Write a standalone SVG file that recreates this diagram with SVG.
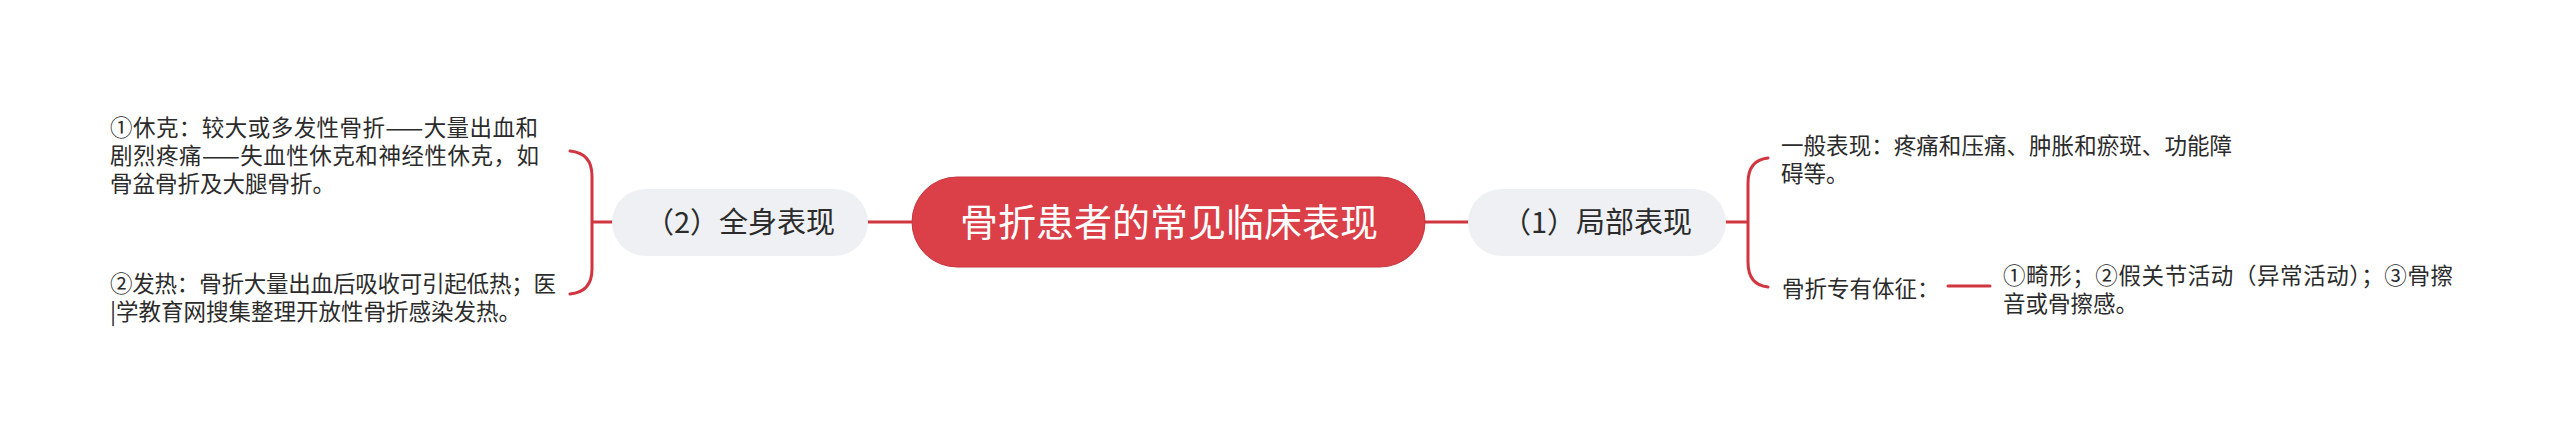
<svg xmlns="http://www.w3.org/2000/svg" width="2560" height="431" viewBox="0 0 2560 431">
<style>
.root{fill:#db3f48;stroke:#c8363f;stroke-width:1}
.sub{fill:#eef0f3}
.line{fill:none;stroke:#d1353f;stroke-width:3;stroke-linecap:round;stroke-linejoin:round}
text{font-family:"Noto Sans CJK SC","Noto Sans",sans-serif}
.rt{fill:#ffffff;font-size:38px}
.st{fill:#2b2b2b;font-size:29px}
.lt{fill:#2b2b2b;font-size:22.5px}
</style>
<rect width="2560" height="431" fill="#ffffff"/>
<g id="connectors">
<line class="line" x1="868" y1="222" x2="912" y2="222"/>
<line class="line" x1="1425" y1="222" x2="1468" y2="222"/>
<path class="line" d="M612,222 L592,222 M570,151 Q592,153 592,176 L592,269 Q592,292 570,294"/>
<path class="line" d="M1726,222 L1748,222 M1768,158 Q1748,160 1748,183 L1748,262 Q1748,285 1768,287"/>
<line class="line" x1="1948" y1="286" x2="1990" y2="286"/>
</g>
<g id="root">
<rect class="root" x="912" y="177" width="513" height="90" rx="45"/>
<text class="rt" x="1169" y="236" text-anchor="middle">骨折患者的常见临床表现</text>
</g>
<g id="node-quanshen">
<rect class="sub" x="612" y="189" width="256" height="67" rx="33.5"/>
<text class="st" x="740" y="233" text-anchor="middle">（2）全身表现</text>
</g>
<g id="node-jubu">
<rect class="sub" x="1468" y="189" width="258" height="67" rx="33.5"/>
<text class="st" x="1597" y="233" text-anchor="middle">（1）局部表现</text>
</g>
<g id="node-xiuke">
<text class="lt" x="110" y="135.5" textLength="428" lengthAdjust="spacing">①休克：较大或多发性骨折——大量出血和</text>
<text class="lt" x="110" y="163.5" textLength="429" lengthAdjust="spacing">剧烈疼痛——失血性休克和神经性休克，如</text>
<text class="lt" x="110" y="191.5">骨盆骨折及大腿骨折。</text>
</g>
<g id="node-fare">
<text class="lt" x="110" y="291.5" textLength="446" lengthAdjust="spacing">②发热：骨折大量出血后吸收可引起低热；医</text>
<text class="lt" x="110" y="319.5">|学教育网搜集整理开放性骨折感染发热。</text>
</g>
<g id="node-yiban">
<text class="lt" x="1781" y="153.5" textLength="451" lengthAdjust="spacing">一般表现：疼痛和压痛、肿胀和瘀斑、功能障</text>
<text class="lt" x="1781" y="181.5">碍等。</text>
</g>
<g id="node-zhuanyou">
<text class="lt" x="1782" y="296.5">骨折专有体征：</text>
</g>
<g id="node-jixing">
<text class="lt" x="2003" y="283.5" textLength="450" lengthAdjust="spacing">①畸形；②假关节活动（异常活动）；③骨擦</text>
<text class="lt" x="2003" y="311.5">音或骨擦感。</text>
</g>
</svg>
